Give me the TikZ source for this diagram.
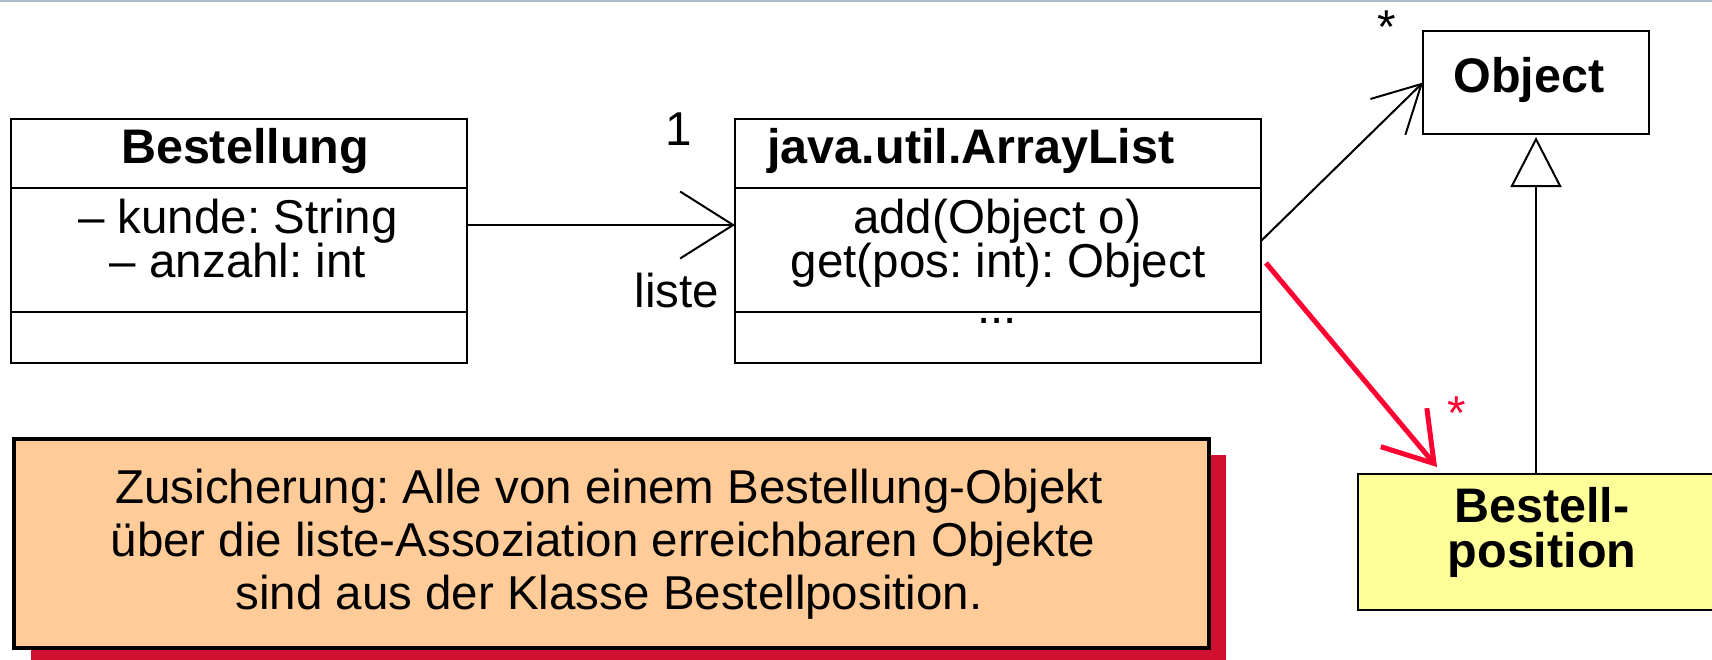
\documentclass[tikz,border=0pt]{standalone}
\usepackage{fontspec}
\setmainfont{Liberation Sans}
\usetikzlibrary{arrows.meta,calc,shadows}
\definecolor{notefill}{RGB}{255,204,153}
\definecolor{shadowred}{RGB}{208,16,48}
\definecolor{linkred}{RGB}{255,0,51}
\definecolor{posfill}{RGB}{255,255,153}
\definecolor{topgray}{RGB}{176,184,204}
\frenchspacing
\begin{document}
\begin{tikzpicture}[x=1pt,y=-1pt,
  classbox/.style={draw, line width=2.5pt, inner sep=0pt, outer sep=0pt, anchor=north west},
  divider/.style={line width=2.5pt},
  txt/.style={font=\fontsize{47.5}{47.5}\selectfont, inner sep=0pt, anchor=base},
  btxt/.style={font=\fontsize{48.5}{48.5}\selectfont\bfseries, inner sep=0pt, anchor=base},
  assoc/.style={line width=2pt, -{Straight Barb[length=53pt,width=67pt]}},
  assocb/.style={line width=2pt, -{Straight Barb[length=47pt,width=50pt]}},
  redassoc/.style={line width=5pt, draw=linkred, -{Straight Barb[length=47pt,width=60pt]}},
  gen/.style={line width=2pt, -{Triangle[open, length=50pt, width=51pt, fill=white]}, shorten >=3pt},
  notebox/.style={draw, line width=4pt, fill=notefill, inner sep=0pt, anchor=north west,
    drop shadow={shadow xshift=17pt, shadow yshift=-16pt, fill=shadowred, opacity=1}},
]
\clip (0,0) rectangle (1712,659);
\fill[white] (0,0) rectangle (1712,659);
\draw[topgray, line width=2pt] (0,1) -- (1712,1);

% Bestellung
\node[classbox, minimum width=456pt, minimum height=244pt] (Bestellung) at (11,119) {};
\draw[divider] (Bestellung.west |- 0,188) -- (Bestellung.east |- 0,188);
\draw[divider] (Bestellung.west |- 0,312) -- (Bestellung.east |- 0,312);
\node[btxt] (bt) at (245,163) {Bestellung};
\node[txt] (ba1) at (238,233) {– kunde: String};
\node[txt] (ba2) at (238,277) {– anzahl: int};

% ArrayList
\node[classbox, minimum width=526pt, minimum height=244pt] (ArrayList) at (735,119) {};
\draw[divider] (ArrayList.west |- 0,188) -- (ArrayList.east |- 0,188);
\draw[divider] (ArrayList.west |- 0,312) -- (ArrayList.east |- 0,312);
\node[btxt] (at) at (971,163) {java.util.ArrayList};
\node[txt] (am1) at (997,233) {add(Object o)};
\node[txt] (am2) at (998,277) {get(pos: int): Object};
\node[txt] (am3) at (997,323) {...};

% Object
\node[classbox, minimum width=226pt, minimum height=103pt] (Object) at (1423,31) {};
\node[btxt] (ot) at (1529,92) {Object};

% Bestellposition
\node[classbox, fill=posfill, minimum width=356pt, minimum height=136pt] (Bpos) at (1358,474) {};
\node[btxt] (bp1) at (1542,522) {Bestell-};
\node[btxt] (bp2) at (1542,567) {position};

% note
\node[notebox, minimum width=1195pt, minimum height=209pt] (note) at (12,437) {};
\node[txt] (n1) at (609,503) {Zusicherung: Alle von einem Bestellung-Objekt};
\node[txt] (n2) at (603,556) {über die liste-Assoziation erreichbaren Objekte};
\node[txt] (n3) at (609,609) {sind aus der Klasse Bestellposition.};

% connectors
\draw[assoc] (Bestellung.east |- 0,225) -- (ArrayList.west |- 0,225);
\node[txt] (m1) at (679,145) {1};
\node[txt] (ml) at (677,307) {liste};
\draw[assocb] (ArrayList.east) -- (Object.west);
\node[txt] (ms) at (1387,43) {*};
\draw[redassoc] ($(ArrayList.east)+(5,22)$) -- ($(Bpos.north west)+(79,-7)$);
\node[txt, text=linkred] (mr) at (1457,429) {*};
\draw[gen] (Bpos.north -| Object.south) -- (Object.south);
\end{tikzpicture}
\end{document}
